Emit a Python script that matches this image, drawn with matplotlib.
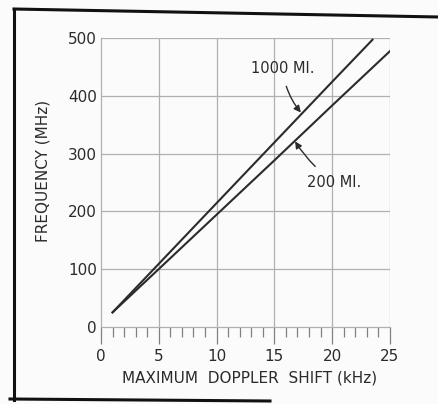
import matplotlib
matplotlib.use("Agg")
import matplotlib.pyplot as plt
from matplotlib.lines import Line2D
import numpy as np

# values
shift_1000 = [1.0, 5.0, 10.0, 15.0, 20.0, 23.5]
freq_1000 = [25, 109, 214, 319, 424, 497]
shift_200 = [1.0, 5.0, 10.0, 15.0, 20.0, 25.0]
freq_200 = [25, 100, 194, 288, 383, 477]

x_ticks = [0, 5, 10, 15, 20, 25]
y_ticks = [0, 100, 200, 300, 400, 500]

ink = "#2b2b2b"
grid = "#b0b0b0"

plt.rcParams['font.family'] = ['DejaVu Sans']

fig = plt.figure(figsize=(4.39, 4.04), dpi=100)
fig.patch.set_facecolor("#fbfbfb")
ax = fig.add_axes([0.230, 0.191, 0.658, 0.715])
ax.set_facecolor("#fbfbfb")

ax.set_xlim(0, 25)
ax.set_ylim(0, 500)

for v in x_ticks[1:]:
    ax.axvline(v, color=grid, lw=0.9, zorder=1)
for v in y_ticks[1:]:
    ax.axhline(v, color=grid, lw=0.9, zorder=1)

for s in ["left", "bottom"]:
    ax.spines[s].set_color(grid)
    ax.spines[s].set_linewidth(0.9)
ax.spines["top"].set_visible(False)
ax.spines["right"].set_visible(False)

ax.plot(shift_1000, freq_1000, color=ink, lw=1.5, zorder=3)
ax.plot(shift_200, freq_200, color=ink, lw=1.5, zorder=3)

ax.set_xticks(x_ticks)
ax.set_xticks(np.arange(0, 26, 1), minor=True)
ax.set_yticks(y_ticks)
ax.tick_params(axis="x", which="major", direction="out", length=12, width=0.9,
               color="#808080", pad=4, labelsize=11, labelcolor=ink)
ax.tick_params(axis="x", which="minor", direction="out", length=7, width=0.9,
               color="#808080")
ax.tick_params(axis="y", which="major", length=0, pad=3, labelsize=11, labelcolor=ink)

ax.set_xlabel("MAXIMUM  DOPPLER  SHIFT (kHz)", fontsize=11, color=ink)
ax.xaxis.set_label_coords(0.516, -0.152)
ax.set_ylabel("FREQUENCY (MHz)", fontsize=11, color=ink)
ax.yaxis.set_label_coords(-0.176, 0.54)

ax.annotate("1000 MI.", xy=(17.3, 371), xytext=(15.7, 448), fontsize=10.5, color=ink,
            ha="center", va="center", zorder=4,
            arrowprops=dict(arrowstyle="-|>", color=ink, lw=1.0, shrinkA=6, shrinkB=0,
                            connectionstyle="arc3,rad=0.15", mutation_scale=10))
ax.annotate("200 MI.", xy=(16.8, 321), xytext=(20.2, 250), fontsize=10.5, color=ink,
            ha="center", va="center", zorder=4,
            arrowprops=dict(arrowstyle="-|>", color=ink, lw=1.0, shrinkA=6, shrinkB=0,
                            connectionstyle="arc3,rad=-0.1", mutation_scale=10))

# frame around the figure (scanned page border)
fig.add_artist(Line2D([14 / 439, 14 / 439], [1 - 9 / 404, 1 - 400 / 404],
                      transform=fig.transFigure, color="#111111", lw=2.2))
fig.add_artist(Line2D([14 / 439, 1.0], [1 - 9 / 404, 1 - 17 / 404],
                      transform=fig.transFigure, color="#111111", lw=2.2))
fig.add_artist(Line2D([10 / 439, 270 / 439], [1 - 399 / 404, 1 - 401 / 404],
                      transform=fig.transFigure, color="#111111", lw=2.2))

fig.savefig("out.png", dpi=100, facecolor=fig.get_facecolor())
